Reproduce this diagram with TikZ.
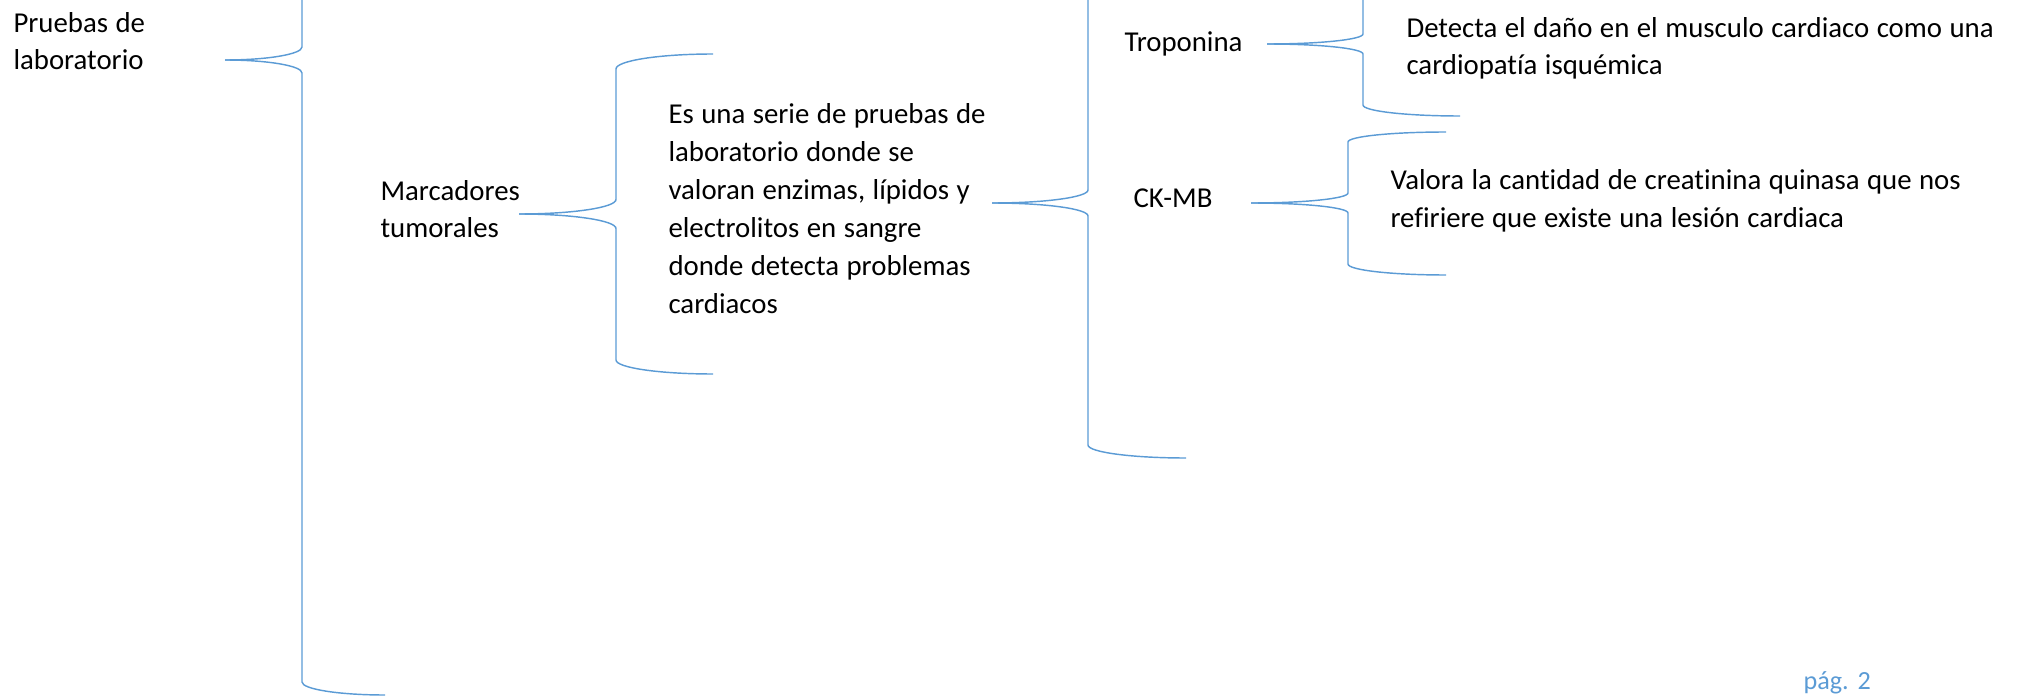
\documentclass[tikz,border=0pt]{standalone}
\usepackage{fontspec}
\setmainfont{Carlito}[Ligatures=NoCommon,WordSpace=1.15]
\definecolor{wordblue}{HTML}{5B9BD5}
\tikzset{
  llave/.style={draw=wordblue,line width=0.55pt},
  texto/.style={anchor=base west,inner sep=0pt,align=left,font=\fontsize{11}{14.5}\selectfont},
}

\begin{document}
\begin{tikzpicture}[x=0.382pt,y=-0.382pt]
	\useasboundingbox (0,0) rectangle (2028,696);
	\clip (0,0) rectangle (2028,696);
	% textos (base = linea de abajo)
	\node[texto] (pruebas) at (13,70) {Pruebas de\\laboratorio};
	\node[texto] (marcadores) at (380,238) {Marcadores\\tumorales};
	\node[texto] (serie) at (668,313) {Es una serie de pruebas de\\laboratorio donde se\\valoran enzimas, lípidos y\\electrolitos en sangre\\donde detecta problemas\\cardiacos};
	\node[texto] (troponina) at (1124,52) {Troponina};
	\node[texto] (ckmb) at (1133,208) {CK-MB};
	\node[texto] (detecta) at (1406,75) {Detecta el daño en el musculo cardiaco como una\\cardiopatía isquémica};
	\node[texto] (valora) at (1390,227) {Valora la cantidad de creatinina quinasa que nos\\refiriere que existe una lesión cardiaca};
	\node[texto,text=wordblue,font=\fontsize{10}{12}\selectfont] (pagina) at (1803,689) {pág. 2};
	% puntas de las llaves
	\coordinate (pruebas-tip) at (225,60);
	\coordinate (marcadores-tip) at (519,214);
	\coordinate (serie-tip) at (992,203);
	\coordinate (troponina-tip) at (1267,44);
	\coordinate (ckmb-tip) at (1251,203);
	% llaves
	\draw[llave] (pruebas-tip) .. controls (267.5,60) and (302,54.2) .. (302,47) -- (302,-5);
	\draw[llave] (pruebas-tip) .. controls (267.5,60) and (302,65.8) .. (302,73) -- (302,682)
		.. controls (302,689.2) and (339.2,695) .. (385,695);
	\draw[llave] (marcadores-tip) .. controls (572.5,214) and (616,207.5) .. (616,199.5) -- (616,69)
		.. controls (616,60.7) and (659.5,54) .. (713,54);
	\draw[llave] (marcadores-tip) .. controls (572.5,214) and (616,220.5) .. (616,228.5) -- (616,360)
		.. controls (616,367.7) and (659.5,374) .. (713,374);
	\draw[llave] (serie-tip) .. controls (1045,203) and (1088,197.2) .. (1088,190) -- (1088,-5);
	\draw[llave] (serie-tip) .. controls (1045,203) and (1088,208.8) .. (1088,216) -- (1088,445)
		.. controls (1088,452.2) and (1131.9,458) .. (1186,458);
	\draw[llave] (troponina-tip) .. controls (1320,44) and (1363,39.5) .. (1363,34) -- (1363,-5);
	\draw[llave] (troponina-tip) .. controls (1320,44) and (1363,48.5) .. (1363,54) -- (1363,105)
		.. controls (1363,111.1) and (1406.5,116) .. (1460,116);
	\draw[llave] (ckmb-tip) .. controls (1304.5,203) and (1348,198.5) .. (1348,193) -- (1348,142)
		.. controls (1348,136.5) and (1391.9,132) .. (1446,132);
	\draw[llave] (ckmb-tip) .. controls (1304.5,203) and (1348,207.5) .. (1348,213) -- (1348,264)
		.. controls (1348,270.1) and (1391.9,275) .. (1446,275);
\end{tikzpicture}
\end{document}
